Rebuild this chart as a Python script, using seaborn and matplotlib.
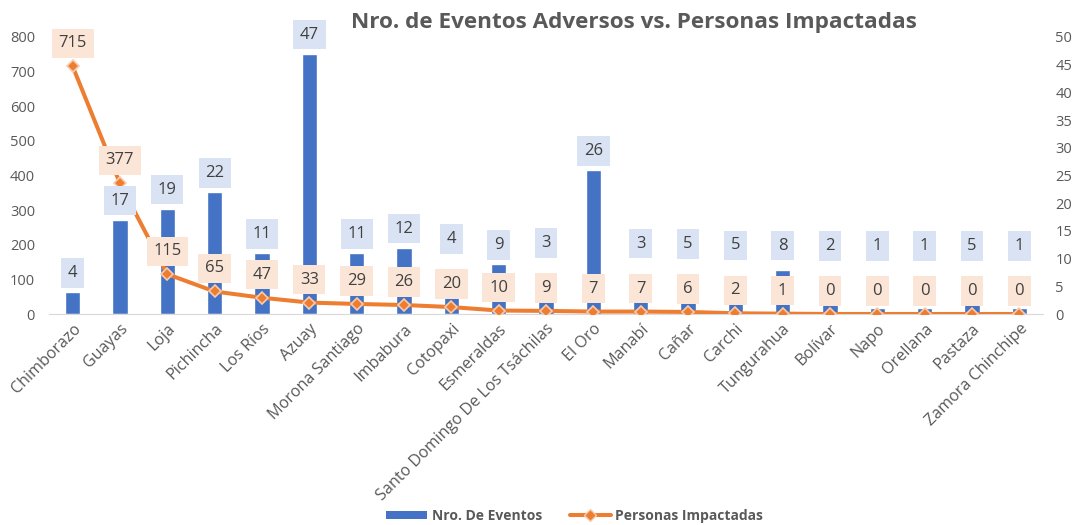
import matplotlib
matplotlib.use("Agg")
import matplotlib.pyplot as plt
import seaborn as sns
import pandas as pd
from matplotlib.lines import Line2D
from matplotlib.patches import Patch

provincias = ["Chimborazo", "Guayas", "Loja", "Pichincha", "Los Ríos", "Azuay",
              "Morona Santiago", "Imbabura", "Cotopaxi", "Esmeraldas",
              "Santo Domingo De Los Tsáchilas", "El Oro", "Manabí", "Cañar",
              "Carchi", "Tungurahua", "Bolívar", "Napo", "Orellana", "Pastaza",
              "Zamora Chinchipe"]
eventos = [4, 17, 19, 22, 11, 47, 11, 12, 4, 9, 3, 26, 3, 5, 5, 8, 2, 1, 1, 5, 1]
personas = [715, 377, 115, 65, 47, 33, 29, 26, 20, 10, 9, 7, 7, 6, 2, 1, 0, 0, 0, 0, 0]

df = pd.DataFrame({"Provincia": provincias, "Eventos": eventos, "Personas": personas})

BLUE = "#4472C4"
ORANGE = "#ED7D31"
TXT = "#404040"
TICK = "#595959"

sns.set_style("white")
plt.rcParams["font.family"] = ["Open Sans", "DejaVu Sans"]

fig = plt.figure(figsize=(10.8, 5.25), dpi=100)
ax = fig.add_axes([49 / 1080, 211 / 525, 994 / 1080, 277 / 525])
ax2 = ax.twinx()

n = len(provincias)
sns.barplot(data=df, x="Provincia", y="Eventos", color=BLUE, width=0.32,
            saturation=1, ax=ax, zorder=2)
sns.lineplot(x=list(range(n)), y=personas, ax=ax2, color=ORANGE, linewidth=2.9,
             marker="D", markersize=6, markerfacecolor=ORANGE,
             markeredgecolor="#F8CBAD", markeredgewidth=1.2, zorder=3)

ax.set_xlim(-0.5, n - 0.5)
ax.set_ylim(0, 50)
ax2.set_ylim(0, 800)
ax.set_yticks(range(0, 51, 5))
ax2.set_yticks(range(0, 801, 100))
ax.yaxis.tick_right()
ax2.yaxis.tick_left()
ax.set_xlabel("")
ax.set_ylabel("")
ax2.set_ylabel("")
ax.tick_params(axis="y", labelsize=10.5, colors=TICK, length=0, pad=9)
ax2.tick_params(axis="y", labelsize=10.5, colors=TICK, length=0, pad=10)
ax.set_xticks(range(n))
ax.set_xticklabels(provincias, rotation=45, ha="right", rotation_mode="anchor",
                   fontsize=11.6, color=TICK)
ax.tick_params(axis="x", length=0, pad=5)

for a in (ax, ax2):
    for s in a.spines.values():
        s.set_visible(False)
ax2.spines["bottom"].set_visible(True)
ax2.spines["bottom"].set_color("#D9D9D9")
ax.grid(False)
ax2.grid(False)

# data labels (positions derived from values)
k = 800 / 277.0  # left-axis units per pixel
for i in range(n):
    oy = personas[i] + 23 * k
    by = eventos[i] * 16 + 19 * k
    if abs(by - oy) < 40 * k:
        by = oy + 45 * k
    ax2.text(i, oy, str(personas[i]), ha="center", va="center", fontsize=12,
             color=TXT, zorder=10,
             bbox=dict(boxstyle="square,pad=0.4", fc="#FBE5D6", ec="none"))
    ax2.text(i, by, str(eventos[i]), ha="center", va="center", fontsize=12,
             color=TXT, zorder=10,
             bbox=dict(boxstyle="square,pad=0.4", fc="#DAE3F3", ec="none"))

fig.text(0.587, 0.958, "Nro. de Eventos Adversos vs. Personas Impactadas",
         ha="center", va="center", fontsize=16.2, fontweight="bold", color=TICK)

handles = [Patch(facecolor=BLUE, edgecolor="none"),
           Line2D([0], [0], color=ORANGE, linewidth=2.9, marker="D", markersize=6,
                  markerfacecolor=ORANGE, markeredgecolor="#F8CBAD")]
fig.legend(handles, ["Nro. De Eventos", "Personas Impactadas"], loc="center",
           bbox_to_anchor=(0.532, 0.018), ncol=2, frameon=False,
           prop={"weight": "bold", "size": 10}, labelcolor=TICK,
           handlelength=3.0, handleheight=0.5, columnspacing=2.0, handletextpad=0.3)

fig.savefig("out.png", dpi=100)
